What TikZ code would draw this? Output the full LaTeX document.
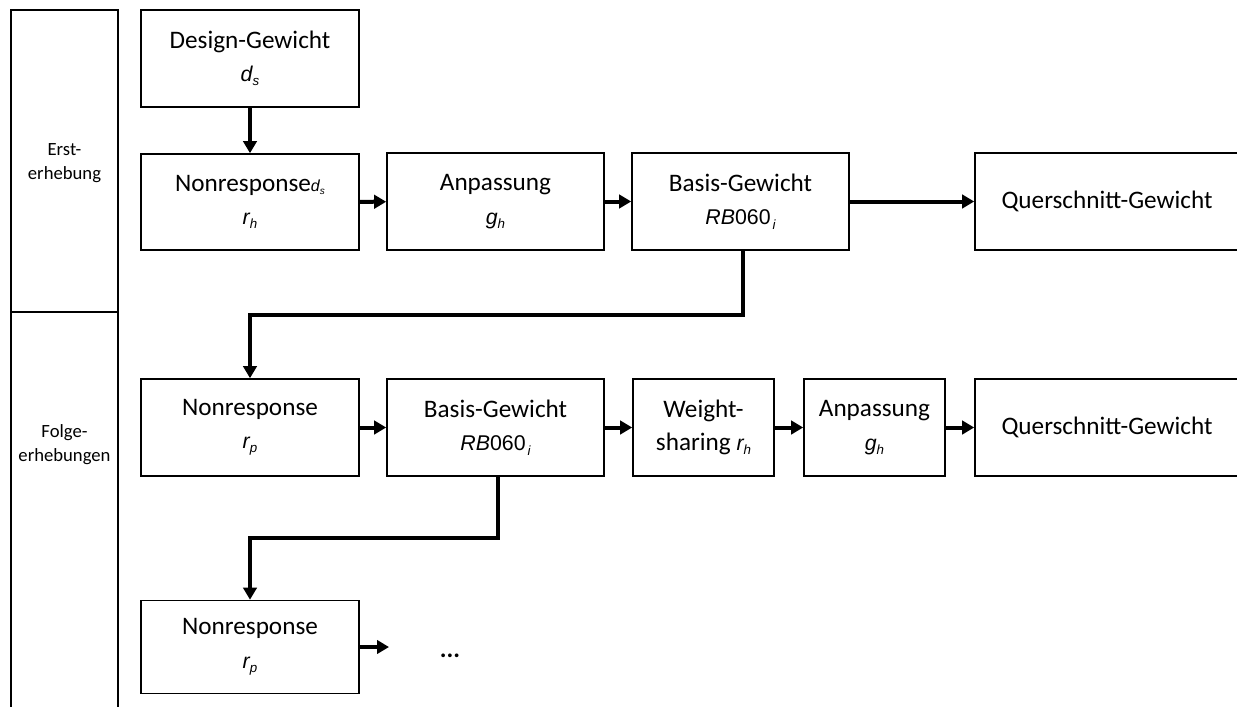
\documentclass[tikz,border=0pt]{standalone}
\usepackage{fontspec}
\setmainfont{Carlito}
\newfontfamily\ar{Liberation Sans}
\usetikzlibrary{arrows.meta}
\newcommand\mi[1]{{\fontsize{16}{16}\selectfont\ar\itshape #1}}
\newcommand\sub[1]{\raisebox{-0.35ex}{\fontsize{10}{10}\selectfont\ar\itshape #1}}
\newcommand\mup[1]{{\fontsize{16}{16}\selectfont\ar #1}}
\begin{document}
\begin{tikzpicture}[x=0.75pt,y=-0.75pt,
  box/.style={draw, line width=1.2pt, align=center, inner sep=0pt,
    font=\fontsize{18.9}{25}\selectfont},
  arr/.style={line width=3pt, -{Triangle[length=9pt,width=10pt]}},
  side/.style={align=center, font=\fontsize{14}{18}\selectfont}]
\useasboundingbox (0,0) rectangle (1237,706);
% left column
\draw[line width=1.2pt] (11,720) -- (11,10) -- (118,10) -- (118,720);
\draw[line width=1.2pt] (11,312) -- (118,312);
\node[side] (erst) at (64.5,163) {Erst-\\erhebung};
\node[side] (folge) at (64.5,445) {Folge-\\erhebungen};
% row 0/1
\node[box, minimum width=218*0.75pt, minimum height=97*0.75pt] (design) at (250,58.5)
  {Design-Gewicht\\\mi{d}\sub{s}};
\node[box, minimum width=218*0.75pt, minimum height=96*0.75pt] (nr1) at (250,202)
  {Nonresponse{\fontsize{12}{12}\selectfont\ar\itshape d}\raisebox{-0.3ex}{\fontsize{7.5}{7.5}\selectfont\ar\itshape s}\\\mi{r}\sub{h}};
\node[box, minimum width=217*0.75pt, minimum height=97*0.75pt] (anp1) at (495.5,201.5)
  {Anpassung\\\mi{g}\sub{h}};
\node[box, minimum width=217*0.75pt, minimum height=97*0.75pt] (bas1) at (740.5,201.5)
  {Basis-Gewicht\\\mi{RB}\mup{060}\kern1.5pt\sub{i}};
\node[box, minimum width=264*0.75pt, minimum height=97*0.75pt] (qs1) at (1107,201.5)
  {Querschnitt-Gewicht};
% row 2
\node[box, minimum width=218*0.75pt, minimum height=97*0.75pt] (nr2) at (250,427.5)
  {Nonresponse\\\mi{r}\sub{p}};
\node[box, minimum width=217*0.75pt, minimum height=97*0.75pt] (bas2) at (495.5,427.5)
  {Basis-Gewicht\\\mi{RB}\mup{060}\kern1.5pt\sub{i}};
\node[box, minimum width=141*0.75pt, minimum height=97*0.75pt] (ws) at (703.5,427.5)
  {Weight-\\sharing \mi{r}\sub{h}};
\node[box, minimum width=141*0.75pt, minimum height=97*0.75pt] (anp2) at (874.5,427.5)
  {Anpassung\\\mi{g}\sub{h}};
\node[box, minimum width=264*0.75pt, minimum height=97*0.75pt] (qs2) at (1107,427.5)
  {Querschnitt-Gewicht};
% row 3
\node[box, minimum width=218*0.75pt, minimum height=93*0.75pt] (nr3) at (250,647)
  {Nonresponse\\\mi{r}\sub{p}};
\node[font=\fontsize{18.9}{23}\selectfont\bfseries] (dots) at (450,656) {...};
\coordinate (e3) at (389,648);
\coordinate (h1) at (0,315);
\coordinate (h2) at (0,538);
% connectors
\draw[arr] (design) -- (nr1);
\draw[arr] (nr1) -- (anp1);
\draw[arr] (anp1) -- (bas1);
\draw[arr] (bas1) -- (qs1);
\draw[arr] ([xshift=2pt]bas1.south) -- ([xshift=2pt]bas1.south |- h1) -| (nr2.north);
\draw[arr] (nr2) -- (bas2);
\draw[arr] (bas2) -- (ws);
\draw[arr] (ws) -- (anp2);
\draw[arr] (anp2) -- (qs2);
\draw[arr] ([xshift=2pt]bas2.south) -- ([xshift=2pt]bas2.south |- h2) -| (nr3.north);
\draw[arr] (nr3.east) -- (e3 |- nr3.east);
\end{tikzpicture}
\end{document}
